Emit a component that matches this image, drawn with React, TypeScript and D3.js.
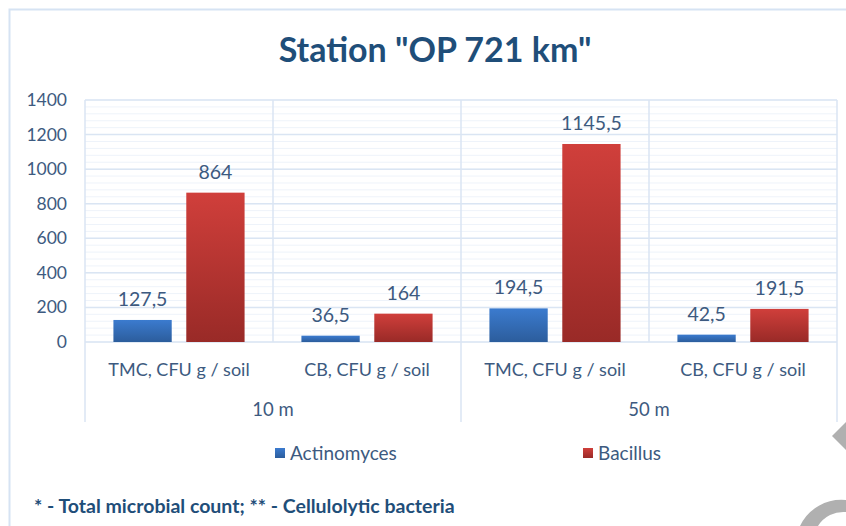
import React from "react";
import * as d3 from "d3";

const groups = ["10 m", "50 m"];
const categories = ["TMC, CFU g / soil", "CB, CFU g / soil", "TMC, CFU g / soil", "CB, CFU g / soil"];
const seriesNames = ["Actinomyces", "Bacillus"];
const actinomyces = [127.5, 36.5, 194.5, 42.5];
const bacillus = [864, 164, 1145.5, 191.5];
const yTicks = [0, 200, 400, 600, 800, 1000, 1200, 1400];
const title = 'Station "OP 721 km"';
const footnote = "* - Total microbial count; ** - Cellulolytic bacteria";

const W = 846, H = 526;
const FONT = "Lato, 'Open Sans', sans-serif";
const TEXT = "#3d5a80";
const GRID = "#dae5f3";

export default function App() {
  const left = 85, right = 837, top = 100, bottom = 342;
  const x = d3.scaleBand<number>().domain(d3.range(categories.length)).range([left, right]);
  const y = d3.scaleLinear().domain([0, 1400]).range([bottom, top]);
  const inner = d3.scaleBand<number>().domain([0, 1]).range([0, x.bandwidth()]).paddingInner(0.2).paddingOuter(0.39);
  const minor = d3.range(0, 1401, 40);
  const series = [actinomyces, bacillus];
  const fmt = (v: number) => String(v).replace(".", ",");
  const groupW = (right - left) / groups.length;

  return (
    <svg width={W} height={H} style={{ position: "absolute", left: 0, top: 0 }}>
      <defs>
        <linearGradient id="gBlue" x1="0" y1="0" x2="0" y2="1">
          <stop offset="0" stopColor="#3b7bcf" />
          <stop offset="1" stopColor="#2c5d9c" />
        </linearGradient>
        <linearGradient id="gRed" x1="0" y1="0" x2="0" y2="1">
          <stop offset="0" stopColor="#d03f3b" />
          <stop offset="1" stopColor="#992a27" />
        </linearGradient>
      </defs>
      <rect x={0} y={0} width={W} height={H} fill="#fff" />
      <path d={`M9.5,${H} V9.5 H${W}`} fill="none" stroke="#d6e3f3" strokeWidth={2} />
      <text x={435} y={62} textAnchor="middle" fontFamily={FONT} fontWeight={700} fontSize={34} fill="#1f4e79">{title}</text>

      {minor.map((v) => (
        <line key={"m" + v} x1={left} x2={right} y1={y(v)} y2={y(v)} stroke="#eef3fa" strokeWidth={1} />
      ))}
      {yTicks.map((v) => (
        <line key={"g" + v} x1={left} x2={right} y1={y(v)} y2={y(v)} stroke={GRID} strokeWidth={1.5} />
      ))}
      {d3.range(categories.length + 1).map((i) => {
        const xx = i === categories.length ? right : (x(i) as number);
        const ext = i % 2 === 0 ? 422 : bottom;
        return <line key={"v" + i} x1={xx} x2={xx} y1={top} y2={ext} stroke={GRID} strokeWidth={1.5} />;
      })}

      {yTicks.map((v) => (
        <text key={"t" + v} x={67} y={y(v) + 6} textAnchor="end" fontFamily={FONT} fontSize={17.5} fill={TEXT}>{v}</text>
      ))}

      {categories.map((c, i) => (
        <g key={"c" + i}>
          {series.map((s, j) => {
            const bx = (x(i) as number) + (inner(j) as number);
            const bw = inner.bandwidth();
            return (
              <g key={j}>
                <rect x={bx} y={y(s[i])} width={bw} height={bottom - y(s[i])} fill={j === 0 ? "url(#gBlue)" : "url(#gRed)"} />
                <text x={bx + bw / 2} y={y(s[i]) - 14} textAnchor="middle" fontFamily={FONT} fontSize={19.5} fill={TEXT}>{fmt(s[i])}</text>
              </g>
            );
          })}
          <text x={(x(i) as number) + x.bandwidth() / 2} y={376} textAnchor="middle" fontFamily={FONT} fontSize={18} fill={TEXT}>{c}</text>
        </g>
      ))}
      {groups.map((g, k) => (
        <text key={g} x={left + groupW * (k + 0.5)} y={416} textAnchor="middle" fontFamily={FONT} fontSize={18.5} fill={TEXT}>{g}</text>
      ))}

      {seriesNames.map((n, j) => {
        const lx = j === 0 ? 275 : 583;
        return (
          <g key={n}>
            <rect x={lx} y={448} width={10} height={10} fill={j === 0 ? "url(#gBlue)" : "url(#gRed)"} />
            <text x={lx + 15} y={460} fontFamily={FONT} fontSize={19} fill={TEXT}>{n}</text>
          </g>
        );
      })}

      <text x={34} y={513} fontFamily={FONT} fontWeight={700} fontSize={19.5} fill="#1f4e79">{footnote}</text>

      <path d="M846,422 L832,436 L846,450 Z" fill="#b0b0b0" />
      <path d="M846,500 A 46 46 0 0 0 800,526 L818,526 A 30 30 0 0 1 846,512 Z" fill="#b0b0b0" />
    </svg>
  );
}
